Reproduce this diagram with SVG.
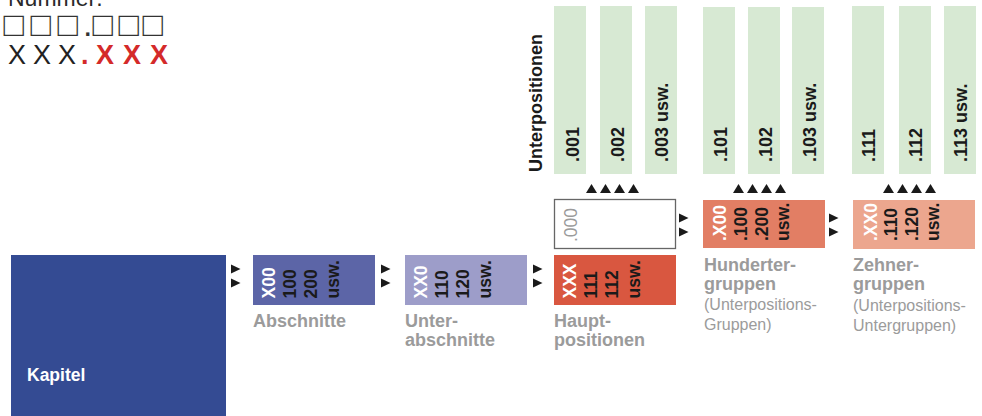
<svg xmlns="http://www.w3.org/2000/svg" width="982" height="416" viewBox="0 0 982 416">
<style>
  text { font-family: "Liberation Sans", Arial, sans-serif; }
  .bx { font-weight: bold; font-size: 17.5px; fill: #1a1a1a; }
  .bw { font-weight: bold; font-size: 17.5px; fill: #ffffff; }
  .gl { font-weight: bold; font-size: 18px; fill: #1a1a1a; }
  .lab { font-weight: bold; font-size: 18px; fill: #9b9b9b; }
  .labr { font-size: 16px; fill: #9b9b9b; }
  .green { fill: #d7e9d3; }
  .tri { fill: #1a1a1a; }
</style>

<g id="legend">
  <text x="8" y="6" font-size="23" fill="#2a2a2a">Nummer:</text>
  <text y="36" font-family="'DejaVu Sans', sans-serif" font-size="34" fill="#333333"><tspan x="3.5 30.5 57.5">□□□</tspan><tspan x="83">.</tspan><tspan x="92.5 118.5 142.5">□□□</tspan></text>
  <text y="64" font-size="27" fill="#222222"><tspan x="8 33 58">XXX</tspan><tspan x="81" fill="#d42a2a" font-weight="bold">.</tspan><tspan x="96 123 150" fill="#d42a2a" font-weight="bold">XXX</tspan></text>
</g>

<g id="kapitel">
  <rect x="11" y="255" width="215" height="161" fill="#344b93"/>
  <text x="27" y="381" font-size="17.5" font-weight="bold" fill="#ffffff">Kapitel</text>
</g>

<g id="abschnitte">
  <rect x="253" y="255" width="122" height="50" fill="#5c65a7"/>
  <text class="bw" transform="translate(275,298.5) rotate(-90)">X00</text>
  <text class="bx" transform="translate(296,298.5) rotate(-90)">100</text>
  <text class="bx" transform="translate(317,298.5) rotate(-90)">200</text>
  <text class="bx" transform="translate(339,298.5) rotate(-90)">usw.</text>
  <text class="lab" x="253" y="327">Abschnitte</text>
</g>

<g id="unterabschnitte">
  <rect x="405" y="255" width="122" height="50" fill="#9d9dc9"/>
  <text class="bw" transform="translate(427,298.5) rotate(-90)">XX0</text>
  <text class="bx" transform="translate(448,298.5) rotate(-90)">110</text>
  <text class="bx" transform="translate(469,298.5) rotate(-90)">120</text>
  <text class="bx" transform="translate(491,298.5) rotate(-90)">usw.</text>
  <text class="lab" x="405" y="327">Unter-</text>
  <text class="lab" x="405" y="346">abschnitte</text>
</g>

<g id="hauptpositionen">
  <rect x="554" y="255" width="122" height="50" fill="#d95740"/>
  <text class="bw" transform="translate(576,298.5) rotate(-90)">XXX</text>
  <text class="bx" transform="translate(597,298.5) rotate(-90)">111</text>
  <text class="bx" transform="translate(618,298.5) rotate(-90)">112</text>
  <text class="bx" transform="translate(640,298.5) rotate(-90)">usw.</text>
  <text class="lab" x="554" y="327">Haupt-</text>
  <text class="lab" x="554" y="346">positionen</text>
</g>

<g id="nullposition">
  <rect x="554.5" y="199.5" width="121" height="49" fill="#ffffff" stroke="#666666" stroke-width="1.3"/>
  <text transform="translate(577,242) rotate(-90)" font-size="17.5" fill="#9b9b9b">.000</text>
</g>

<g id="hundertergruppen">
  <rect x="703" y="200" width="122" height="48" fill="#e27e64"/>
  <text class="bw" transform="translate(726,241) rotate(-90)">.X00</text>
  <text class="bx" transform="translate(747,241) rotate(-90)">.100</text>
  <text class="bx" transform="translate(768,241) rotate(-90)">.200</text>
  <text class="bx" transform="translate(789,241) rotate(-90)">usw.</text>
  <text class="lab" x="704" y="271">Hunderter-</text>
  <text class="lab" x="704" y="290">gruppen</text>
  <text class="labr" x="704" y="310">(Unterpositions-</text>
  <text class="labr" x="704" y="330">Gruppen)</text>
</g>

<g id="zehnergruppen">
  <rect x="853" y="200" width="122" height="49" fill="#eca68e"/>
  <text class="bw" transform="translate(877,241) rotate(-90)">.XX0</text>
  <text class="bx" transform="translate(897,241) rotate(-90)">.110</text>
  <text class="bx" transform="translate(918,241) rotate(-90)">.120</text>
  <text class="bx" transform="translate(939,241) rotate(-90)">usw.</text>
  <text class="lab" x="853" y="271">Zehner-</text>
  <text class="lab" x="853" y="290">gruppen</text>
  <text class="labr" x="853" y="311">(Unterpositions-</text>
  <text class="labr" x="853" y="331">Untergruppen)</text>
</g>

<g id="unterpositionen">
  <text transform="translate(542,172) rotate(-90)" font-size="18" font-weight="bold" fill="#1a1a1a">Unterpositionen</text>
  <g id="up-001"><rect class="green" x="554" y="6" width="32" height="168"/><text class="gl" transform="translate(579,162) rotate(-90)">.001</text></g>
  <g id="up-002"><rect class="green" x="600" y="6" width="32" height="168"/><text class="gl" transform="translate(624,162) rotate(-90)">.002</text></g>
  <g id="up-003"><rect class="green" x="645" y="6" width="32" height="168"/><text class="gl" transform="translate(668,162) rotate(-90)">.003 usw.</text></g>
  <g id="up-101"><rect class="green" x="703" y="7" width="32" height="167"/><text class="gl" transform="translate(727,162) rotate(-90)">.101</text></g>
  <g id="up-102"><rect class="green" x="748" y="7" width="32" height="167"/><text class="gl" transform="translate(772,162) rotate(-90)">.102</text></g>
  <g id="up-103"><rect class="green" x="792" y="7" width="32" height="167"/><text class="gl" transform="translate(816,162) rotate(-90)">.103 usw.</text></g>
  <g id="up-111"><rect class="green" x="852" y="6" width="32" height="168"/><text class="gl" transform="translate(875,162) rotate(-90)">.111</text></g>
  <g id="up-112"><rect class="green" x="899" y="6" width="32" height="168"/><text class="gl" transform="translate(922,162) rotate(-90)">.112</text></g>
  <g id="up-113"><rect class="green" x="944" y="6" width="32" height="168"/><text class="gl" transform="translate(967,162) rotate(-90)">.113 usw.</text></g>
</g>

<g id="connectors">
  <defs>
    <polygon id="rt" points="0,-4.5 9.5,0 0,4.5"/>
    <polygon id="up" points="0,9 5.5,0 11,9"/>
  </defs>
  <use href="#rt" class="tri" x="231" y="269"/>
  <use href="#rt" class="tri" x="231" y="283"/>
  <use href="#rt" class="tri" x="381" y="269"/>
  <use href="#rt" class="tri" x="381" y="283"/>
  <use href="#rt" class="tri" x="533" y="269"/>
  <use href="#rt" class="tri" x="533" y="283"/>
  <use href="#rt" class="tri" x="679" y="218"/>
  <use href="#rt" class="tri" x="679" y="232"/>
  <use href="#rt" class="tri" x="829" y="218"/>
  <use href="#rt" class="tri" x="829" y="232"/>

  <use href="#up" class="tri" x="586" y="184"/>
  <use href="#up" class="tri" x="600" y="184"/>
  <use href="#up" class="tri" x="614" y="184"/>
  <use href="#up" class="tri" x="628" y="184"/>
  <use href="#up" class="tri" x="733" y="184"/>
  <use href="#up" class="tri" x="747" y="184"/>
  <use href="#up" class="tri" x="761" y="184"/>
  <use href="#up" class="tri" x="775" y="184"/>
  <use href="#up" class="tri" x="883" y="184"/>
  <use href="#up" class="tri" x="897" y="184"/>
  <use href="#up" class="tri" x="911" y="184"/>
  <use href="#up" class="tri" x="925" y="184"/>
</g>
</svg>
